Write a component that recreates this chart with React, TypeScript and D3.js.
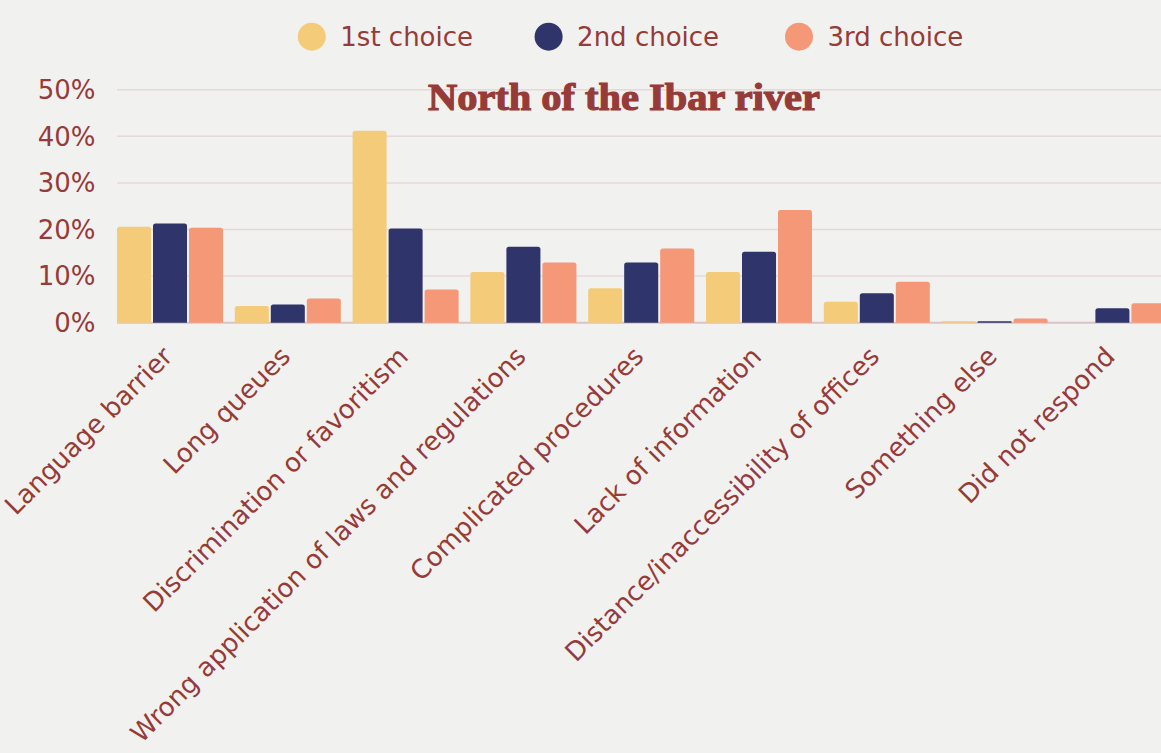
import React from "react";
import * as d3 from "d3";

const categories = [
  "Language barrier",
  "Long queues",
  "Discrimination or favoritism",
  "Wrong application of laws and regulations",
  "Complicated procedures",
  "Lack of information",
  "Distance/inaccessibility of offices",
  "Something else",
  "Did not respond",
];
const seriesNames = ["1st choice", "2nd choice", "3rd choice"];
const firstChoice = [20.6, 3.6, 41.2, 10.9, 7.4, 10.9, 4.5, 0.3, 0];
const secondChoice = [21.3, 3.9, 20.2, 16.3, 12.9, 15.2, 6.3, 0.3, 3.1];
const thirdChoice = [20.4, 5.2, 7.1, 12.9, 15.9, 24.2, 8.8, 0.9, 4.2];
const yTicks = [0, 10, 20, 30, 40, 50];
const colors = ["#F4CB79", "#2F346B", "#F59878"];
const title = "North of the Ibar river";

const W = 1161;
const H = 753;
const TEXT = "#963B38";

export default function App() {
  const series = [firstChoice, secondChoice, thirdChoice];
  const step = 117.8;
  const x0 = d3
    .scaleBand<string>()
    .domain(categories)
    .range([117, 117 + step * (categories.length - 0.1)])
    .paddingInner(0.1)
    .paddingOuter(0);
  const x1 = d3
    .scaleBand<string>()
    .domain(seriesNames)
    .range([0, x0.bandwidth()])
    .paddingInner(0.055);
  const y = d3.scaleLinear().domain([0, 50]).range([322.7, 89.7]);

  const legendX = [297.8, 534.6, 785];

  const barPath = (x: number, yTop: number, w: number, yBot: number) => {
    const h = yBot - yTop;
    const r = Math.min(2.5, h / 2, w / 2);
    return `M${x},${yBot}V${yTop + r}Q${x},${yTop} ${x + r},${yTop}H${x + w - r}Q${x + w},${yTop} ${x + w},${yTop + r}V${yBot}Z`;
  };

  return (
    <svg
      width={W}
      height={H}
      style={{ position: "absolute", left: 0, top: 0, background: "#F1F1EF" }}
    >
      <rect x={0} y={0} width={W} height={H} fill="#F1F1EF" />
      {yTicks.map((t) => (
        <line
          key={t}
          x1={117}
          x2={W}
          y1={y(t)}
          y2={y(t)}
          stroke={t === 0 ? "#D9C3C3" : "#E7D8D8"}
          strokeWidth={t === 0 ? 2 : 1.5}
        />
      ))}
      {yTicks.map((t) => (
        <text
          key={"l" + t}
          x={95.5}
          y={y(t)}
          dy="0.36em"
          textAnchor="end"
          fontFamily="DejaVu Sans"
          fontSize={26}
          fill={TEXT}
        >
          {t + "%"}
        </text>
      ))}
      <text
        x={624}
        y={110}
        textAnchor="middle"
        fontFamily="Liberation Serif"
        fontWeight="bold"
        fontSize={38}
        textLength={392}
        lengthAdjust="spacingAndGlyphs"
        fill={TEXT}
        stroke={TEXT}
        strokeWidth={1.2}
      >
        {title}
      </text>
      {categories.map((c, i) => (
        <g key={c} transform={`translate(${x0(c)},0)`}>
          {seriesNames.map((s, j) => {
            const v = series[j][i];
            if (v <= 0) return null;
            return (
              <path
                key={s}
                d={barPath(x1(s)!, y(v), x1.bandwidth(), y(0))}
                fill={colors[j]}
              />
            );
          })}
        </g>
      ))}
      {categories.map((c) => {
        const cx = x0(c)! + x0.bandwidth() / 2;
        return (
          <text
            key={"x" + c}
            transform={`translate(${cx + 4},${358}) rotate(-45)`}
            textAnchor="end"
            fontFamily="DejaVu Sans"
            fontSize={26}
            fill={TEXT}
          >
            {c}
          </text>
        );
      })}
      {seriesNames.map((s, j) => (
        <g key={"lg" + s} transform={`translate(${legendX[j]},36.7)`}>
          <circle cx={14} cy={0} r={14} fill={colors[j]} />
          <text
            x={42.5}
            y={0}
            dy="0.36em"
            fontFamily="DejaVu Sans"
            fontSize={26}
            fill={TEXT}
          >
            {s}
          </text>
        </g>
      ))}
    </svg>
  );
}
